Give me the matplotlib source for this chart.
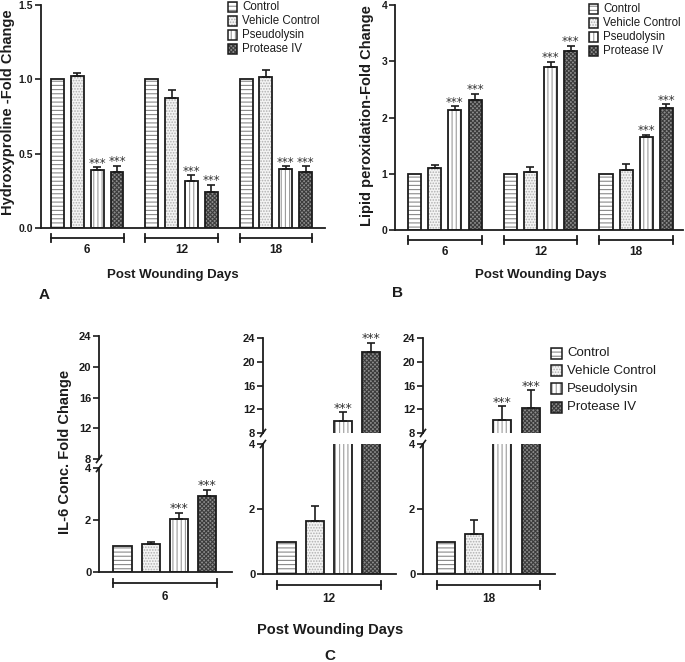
import matplotlib
matplotlib.use('Agg')
import matplotlib.pyplot as plt
from matplotlib import transforms
from matplotlib.patches import Rectangle

plt.rcParams['font.family'] = ['Liberation Sans', 'DejaVu Sans']
plt.rcParams['hatch.linewidth'] = 0.8

W, H = 685, 662

days = ['6', '12', '18']
series = ['Control', 'Vehicle Control', 'Pseudolysin', 'Protease IV']

# A: hydroxyproline fold change (per series, over days 6/12/18)
hyp_control = [1.0, 1.0, 1.0]
hyp_vehicle = [1.02, 0.877, 1.013]
hyp_pseudo = [0.388, 0.316, 0.397]
hyp_protease = [0.377, 0.24, 0.377]
hyp_vehicle_err = [0.025, 0.053, 0.047]
hyp_pseudo_err = [0.022, 0.038, 0.018]
hyp_protease_err = [0.043, 0.05, 0.038]

# B: lipid peroxidation fold change
lip_control = [1.0, 1.0, 1.0]
lip_vehicle = [1.11, 1.04, 1.06]
lip_pseudo = [2.13, 2.89, 1.645]
lip_protease = [2.32, 3.19, 2.16]
lip_vehicle_err = [0.05, 0.08, 0.11]
lip_pseudo_err = [0.07, 0.1, 0.05]
lip_protease_err = [0.1, 0.09, 0.08]

# C: IL-6 conc. fold change
il6_control = [1.0, 1.0, 1.0]
il6_vehicle = [1.06, 1.62, 1.24]
il6_pseudo = [2.05, 10.1, 10.24]
il6_protease = [2.93, 21.6, 12.27]
il6_vehicle_err = [0.09, 0.46, 0.42]
il6_pseudo_err = [0.23, 1.4, 2.3]
il6_protease_err = [0.23, 1.6, 2.9]

# which series get *** (same for all panels / days)
starred = [False, False, True, True]

styles = [
    dict(face='white', hatch='----', hc='#8a8a8a'),
    dict(face='#f4f4f4', hatch='......', hc='#b0b0b0'),
    dict(face='white', hatch='||||', hc='#9a9a9a'),
    dict(face='#8c8c8c', hatch='xxxxxxxx', hc='#3c3c3c'),
]
INK = '#1c1c1c'

fig = plt.figure(figsize=(W / 100, H / 100), dpi=100)


def add_ax(l, t, r, b, fs=7.5):
    ax = fig.add_axes([l / W, 1 - b / H, (r - l) / W, (b - t) / H])
    ax.hpx = b - t
    ax.wpx = r - l
    for s in ['top', 'right']:
        ax.spines[s].set_visible(False)
    for s in ['left', 'bottom']:
        ax.spines[s].set_linewidth(1.3)
        ax.spines[s].set_color(INK)
    ax.set_xticks([])
    ax.tick_params(axis='y', direction='out', length=4, width=1.2, color=INK,
                   labelsize=fs, pad=1.5, labelcolor=INK)
    return ax


def draw_bars(ax, xs, vals, errs, idx, width):
    st = styles[idx]
    ax.bar(xs, vals, width, color=st['face'], hatch=st['hatch'],
           edgecolor=st['hc'], linewidth=0, zorder=2)
    ax.bar(xs, vals, width, fill=False, edgecolor=INK, linewidth=1.3, zorder=3)
    for x, v, e in zip(xs, vals, errs):
        if e > 0:
            ax.errorbar([x], [v], yerr=[[0], [e]], fmt='none', ecolor=INK,
                        elinewidth=1.2, capsize=3, capthick=1.2, zorder=4)


def stars(ax, x, top, fs=8.5):
    ax.annotate('***', (x, top), xytext=(0, 0.3), textcoords='offset points',
                ha='center', va='baseline', fontsize=fs, color='#333333',
                family='DejaVu Sans')


def bracket(ax, x0, x1, label, off=10, loff=22, fs=8.5):
    tr = transforms.blended_transform_factory(ax.transData, ax.transAxes)
    y = -off / ax.hpx
    t = 4 / ax.hpx
    kw = dict(transform=tr, clip_on=False, color=INK, lw=1.3)
    ax.plot([x0, x1], [y, y], **kw)
    ax.plot([x0, x0], [y - t, y + t], **kw)
    ax.plot([x1, x1], [y - t, y + t], **kw)
    ax.text((x0 + x1) / 2, -loff / ax.hpx, label, transform=tr, ha='center',
            va='center', fontsize=fs, fontweight='bold', color=INK)


def legend(x, ys, sw, fs):
    for i, name in enumerate(series):
        st = styles[i]
        y = ys[i]
        r = Rectangle((x / W, 1 - (y + sw / 2) / H), sw / W, sw / H,
                      transform=fig.transFigure, facecolor=st['face'],
                      hatch=st['hatch'], edgecolor=st['hc'], linewidth=0)
        fig.add_artist(r)
        fig.add_artist(Rectangle((x / W, 1 - (y + sw / 2) / H), sw / W, sw / H,
                                 transform=fig.transFigure, fill=False,
                                 edgecolor=INK, linewidth=1.1))
        fig.text((x + sw + 5) / W, 1 - y / H, name, fontsize=fs, color=INK,
                 ha='left', va='center')


def bold_ticks(ax):
    for lab in ax.get_yticklabels():
        lab.set_fontweight('bold')


# ---------- panel A and B (grouped bars) ----------
gstep = 4.75
bw = 0.65


def grouped(ax, data, errs):
    for i in range(4):
        xs = [g * gstep + i for g in range(3)]
        draw_bars(ax, xs, data[i], errs[i], i, bw)
        if starred[i]:
            for x, v, e in zip(xs, data[i], errs[i]):
                stars(ax, x, v + e)
    for g in range(3):
        bracket(ax, g * gstep - 0.33, g * gstep + 3.33, days[g])


axA = add_ax(41, 5, 325, 228)
grouped(axA, [hyp_control, hyp_vehicle, hyp_pseudo, hyp_protease],
        [[0, 0, 0], hyp_vehicle_err, hyp_pseudo_err, hyp_protease_err])
axA.set_xlim(-0.825, 2 * gstep + 3 + 0.975)
axA.set_ylim(0, 1.5)
axA.set_yticks([0, 0.5, 1.0, 1.5])
axA.set_yticklabels(['0.0', '0.5', '1.0', '1.5'])
bold_ticks(axA)

axB = add_ax(395, 5, 683, 230)
grouped(axB, [lip_control, lip_vehicle, lip_pseudo, lip_protease],
        [[0, 0, 0], lip_vehicle_err, lip_pseudo_err, lip_protease_err])
axB.set_xlim(-0.975, 2 * gstep + 3 + 0.825)
axB.set_ylim(0, 4)
axB.set_yticks([0, 1, 2, 3, 4])
bold_ticks(axB)

fig.text(8 / W, 1 - 112 / H, 'Hydroxyproline -Fold Change', rotation=90,
         ha='center', va='center', fontsize=10.5, fontweight='bold', color=INK)
fig.text(367 / W, 1 - 116 / H, 'Lipid peroxidation-Fold Change', rotation=90,
         ha='center', va='center', fontsize=10.5, fontweight='bold', color=INK)
fig.text(173 / W, 1 - 275 / H, 'Post Wounding Days', ha='center', va='center',
         fontsize=9.5, fontweight='bold', color=INK)
fig.text(541 / W, 1 - 275 / H, 'Post Wounding Days', ha='center', va='center',
         fontsize=9.5, fontweight='bold', color=INK)
fig.text(44 / W, 1 - 295 / H, 'A', ha='center', va='center', fontsize=11,
         fontweight='bold', color=INK)
fig.text(397 / W, 1 - 293 / H, 'B', ha='center', va='center', fontsize=11,
         fontweight='bold', color=INK)

legend(228, [7, 21, 35, 49], 9, 8.3)
legend(589, [9, 23, 37, 51], 9, 8.3)

# ---------- panel C (broken y axis, one pair of axes per day) ----------
c_boxes = [
    # left, right, upper top, upper bottom, lower top, lower bottom
    (99, 232, 336, 459, 468, 572),
    (263, 396, 338, 433, 444, 574),
    (423, 555, 338, 433, 444, 574),
]
c_data = [il6_control, il6_vehicle, il6_pseudo, il6_protease]
c_errs = [[0, 0, 0], il6_vehicle_err, il6_pseudo_err, il6_protease_err]
cw = 0.64

for g, (l, r, ut, ub, lt, lb) in enumerate(c_boxes):
    up = add_ax(l, ut, r, ub, fs=8)
    lo = add_ax(l, lt, r, lb, fs=8)
    up.spines['bottom'].set_visible(False)
    vals = [c_data[i][g] for i in range(4)]
    errs = [c_errs[i][g] for i in range(4)]
    for ax in (up, lo):
        for i in range(4):
            draw_bars(ax, [i], [vals[i]], [errs[i]], i, cw)
        ax.set_xlim(-0.83, 3.87)
    up.set_ylim(8, 24)
    up.set_yticks([8, 12, 16, 20, 24])
    lo.set_ylim(0, 4)
    lo.set_yticks([0, 2, 4])
    bold_ticks(up)
    bold_ticks(lo)
    for i in range(4):
        if starred[i]:
            top = vals[i] + errs[i]
            stars(up if top > 8 else lo, i, top, fs=9)
    # break marks
    for ax, yy in ((up, 0.0), (lo, 1.0)):
        dx = 2.5 / ax.wpx
        dy = 3.5 / ax.hpx
        ax.plot([-dx, dx], [yy - dy, yy + dy], transform=ax.transAxes,
                clip_on=False, color=INK, lw=1.2)
    bracket(lo, -0.33, 3.33, days[g], off=11, loff=25, fs=8.5)

fig.text(65 / W, 1 - 452 / H, 'IL-6 Conc. Fold Change', rotation=90,
         ha='center', va='center', fontsize=10.5, fontweight='bold', color=INK)
fig.text(330 / W, 1 - 630 / H, 'Post Wounding Days', ha='center', va='center',
         fontsize=10.5, fontweight='bold', color=INK)
fig.text(330 / W, 1 - 656 / H, 'C', ha='center', va='center', fontsize=11,
         fontweight='bold', color=INK)

legend(551, [353, 371, 389, 407], 11, 9.5)

fig.savefig('out.png', dpi=100)
